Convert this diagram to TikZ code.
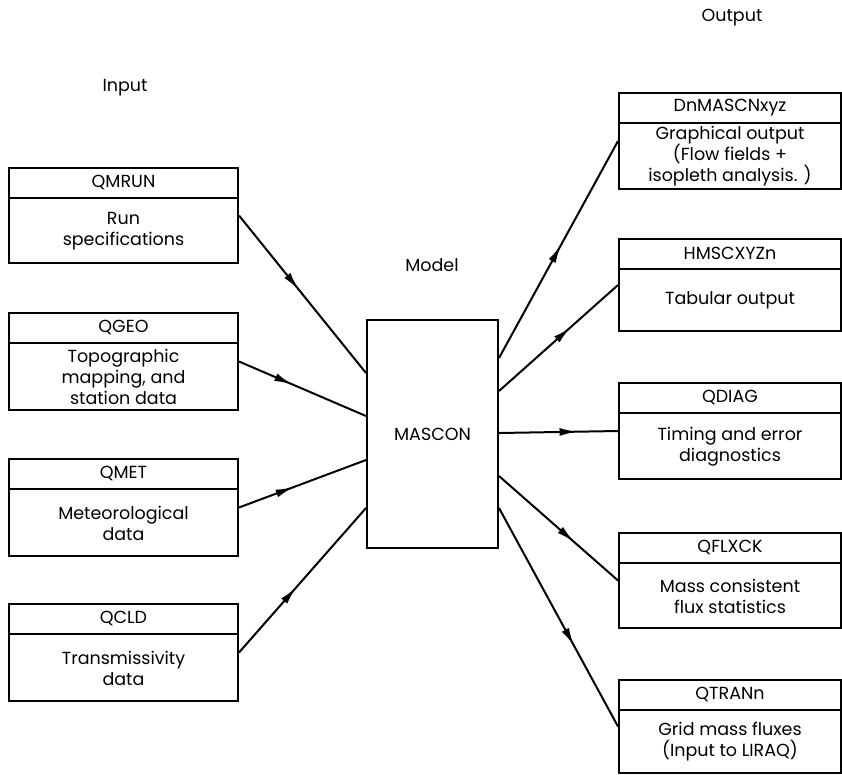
\documentclass[tikz,border=0pt]{standalone}
\usepackage{fontspec}
\setmainfont{Poppins}
\usetikzlibrary{arrows.meta,decorations.markings,calc}

% A box with a title strip on top and a description below
\newcommand{\flowbox}[7]{% name, left x, top y, width, height, title, body
  \node[box, minimum width=#4pt, minimum height=#5pt] (#1) at (#2,#3) {};
  \draw[rule] ([yshift=-31pt]#1.north west) -- ([yshift=-31pt]#1.north east);
  \node[txt] (#1-title) at ([yshift=-15.5pt]#1.north) {#6};
  \node[txt] (#1-body) at ($([yshift=-31pt]#1.north)!0.5!(#1.south)$) {#7};
}

\begin{document}
\begin{tikzpicture}[x=1pt,y=-1pt,
  txt/.style={font=\fontsize{17.5}{21}\selectfont, align=center, inner sep=0pt},
  box/.style={draw, line width=2pt, inner sep=0pt, anchor=north west},
  rule/.style={line width=2pt},
  conn/.style={line width=2pt},
  midarrow/.style={postaction={decorate},
    decoration={markings, mark=at position #1 with {\arrow{Latex[length=18pt,width=8pt]}}}}
]
\useasboundingbox (0,0) rectangle (842,774);

% column headings
\node[txt] (lin)  at (125,88)  {Input};
\node[txt] (lmod) at (432,265) {Model};
\node[txt] (lout) at (732,18)  {Output};

% input files
\flowbox{qmrun}{8}{167}{229}{95}{QMRUN}{Run\\specifications}
\flowbox{qgeo}{8}{312}{229}{97}{QGEO}{Topographic\\mapping, and\\station data}
\flowbox{qmet}{8}{458}{229}{97}{QMET}{Meteorological\\data}
\flowbox{qcld}{8}{603}{229}{97}{QCLD}{Transmissivity\\data}

% the model
\node[box, minimum width=131pt, minimum height=228pt] (mascon) at (366,319) {};
\node[txt] (mascon-name) at (mascon.center) {MASCON};

% output files
\flowbox{dnmas}{618}{92}{222}{96}{DnMASCNxyz}{Graphical output\\(Flow fields +\\isopleth analysis. )}
\flowbox{hmsc}{618}{238}{222}{92}{HMSCXYZn}{Tabular output}
\flowbox{qdiag}{618}{382}{222}{96}{QDIAG}{Timing and error\\diagnostics}
\flowbox{qflx}{618}{532}{222}{95}{QFLXCK}{Mass consistent\\flux statistics}
\flowbox{qtran}{618}{679}{222}{93}{QTRANn}{Grid mass fluxes\\(Input to LIRAQ)}

% inputs into the model
\draw[conn, midarrow=0.47] (qmrun.east) -- ([yshift=61pt]mascon.west);
\draw[conn, midarrow=0.42] (qgeo.east)  -- ([yshift=18pt]mascon.west);
\draw[conn, midarrow=0.43] (qmet.east)  -- ([yshift=-26pt]mascon.west);
\draw[conn, midarrow=0.45] (qcld.east)  -- ([yshift=-74pt]mascon.west);

% model to outputs
\draw[conn, midarrow=0.52] ([yshift=76pt]mascon.east)  -- (dnmas.west);
\draw[conn, midarrow=0.60] ([yshift=43pt]mascon.east)  -- (hmsc.west);
\draw[conn, midarrow=0.66] ([yshift=1pt]mascon.east)   -- (qdiag.west);
\draw[conn, midarrow=0.63] ([yshift=-42pt]mascon.east) -- (qflx.west);
\draw[conn, midarrow=0.63] ([yshift=-74pt]mascon.east) -- (qtran.west);
\end{tikzpicture}
\end{document}
